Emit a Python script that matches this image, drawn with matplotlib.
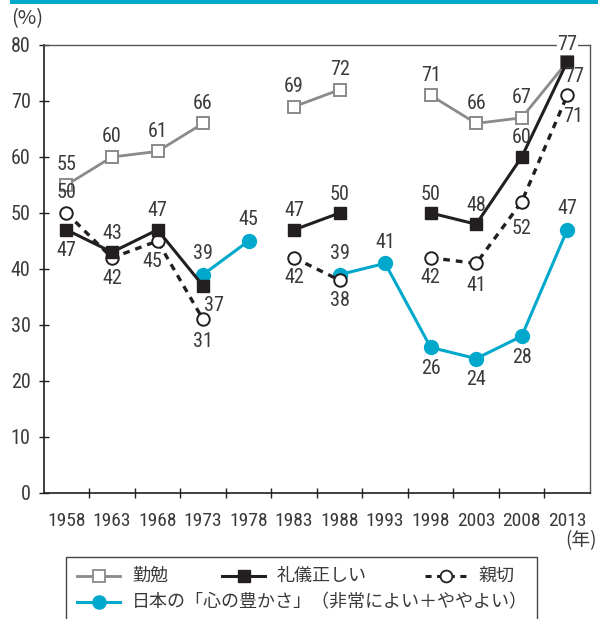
import numpy as np
import matplotlib
matplotlib.use("Agg")
import matplotlib.pyplot as plt
from matplotlib import font_manager
from matplotlib.lines import Line2D
from matplotlib.patches import Rectangle

# ---------------- data ----------------
years = ["1958", "1963", "1968", "1973", "1978", "1983", "1988", "1993", "1998", "2003", "2008", "2013"]
kinben = [55, 60, 61, 66, None, 69, 72, None, 71, 66, 67, 77]          # 勤勉
reigi = [47, 43, 47, 37, None, 47, 50, None, 50, 48, 60, 77]           # 礼儀正しい
shinsetsu = [50, 42, 45, 31, None, 42, 38, None, 42, 41, 52, 71]       # 親切
kokoro = [None, None, None, 39, 45, None, 39, 41, 26, 24, 28, 47]      # 日本の「心の豊かさ」
yticks = [0, 10, 20, 30, 40, 50, 60, 70, 80]
legend_labels = ["勤勉", "礼儀正しい", "親切", "日本の「心の豊かさ」（非常によい＋ややよい）"]

# ---------------- fonts ----------------
avail = {f.name for f in font_manager.fontManager.ttflist}
num_font = [f for f in ["Liberation Sans Narrow", "Roboto Condensed", "DejaVu Sans Condensed"] if f in avail]
num_font = (num_font + ["DejaVu Sans"])[:1] + ["Noto Sans CJK JP"]
cjk_font = ["Noto Sans CJK JP", "DejaVu Sans"]
plt.rcParams["font.family"] = num_font

GRAY = "#8a8a8a"
BLACK = "#231f20"
CYAN = "#00a9cc"
TXT = "#3a3a3a"

W, H = 599, 619
fig = plt.figure(figsize=(W / 100, H / 100), dpi=100)
L, R, T, B = 43.7, 590, 45, 493
ax = fig.add_axes([L / W, 1 - B / H, (R - L) / W, (B - T) / H])

x = np.arange(len(years))
def arr(v):
    return np.array([np.nan if a is None else a for a in v], dtype=float)

k, r, s, c = arr(kinben), arr(reigi), arr(shinsetsu), arr(kokoro)

ax.plot(x, k, color=GRAY, lw=2.0, marker="s", ms=8.5, mfc="white", mec=GRAY, mew=1.4, zorder=3)
ax.plot(x, s, color=BLACK, lw=2.4, ls=(0, (2.0, 1.8)), marker="o", ms=9, mfc="white", mec=BLACK, mew=1.4, zorder=4)
ax.plot(x, r, color=BLACK, lw=2.2, marker="s", ms=9, mfc=BLACK, mec=BLACK, zorder=5)
ax.plot(x, c, color=CYAN, lw=2.2, marker="o", ms=10, mfc=CYAN, mec=CYAN, zorder=2)

ax.set_xlim(-0.5, len(years) - 0.5)
ax.set_ylim(0, 80)
ax.set_yticks(yticks)
ax.set_yticklabels([str(v) for v in yticks], fontsize=14.5, color=TXT)
ax.set_xticks(x)
ax.set_xticklabels(years, fontsize=14, color=TXT)
ax.tick_params(axis="x", which="major", length=0, pad=14)
ax.set_xticks(np.arange(0.5, len(years) - 1, 1), minor=True)
ax.tick_params(axis="x", which="minor", direction="inout", length=7, width=1, color=BLACK)
ax.tick_params(axis="y", direction="inout", length=7, width=1, color=BLACK, pad=6)
for sp in ["left", "bottom"]:
    ax.spines[sp].set_color(BLACK)
    ax.spines[sp].set_linewidth(1.2)
for sp in ["top", "right"]:
    ax.spines[sp].set_color("#555555")
    ax.spines[sp].set_linewidth(1.0)

# ---------------- value labels ----------------
PT = 0.72  # px -> points
def lab(xi, yv, dx, dy, bg=False):
    kw = {}
    if bg:
        kw["bbox"] = dict(fc="white", ec="none", pad=0.5)
    ax.annotate(f"{int(yv)}", (xi, yv), xytext=(dx * PT, dy * PT), textcoords="offset points",
                ha="center", va="center", fontsize=14.5, color=TXT, zorder=10, annotation_clip=False, **kw)

# offsets in px (dx, dy up-positive)
k_off = {0: (0, 20), 1: (0, 20), 2: (0, 20), 3: (0, 20), 5: (0, 20), 6: (0, 20), 8: (0, 20), 9: (0, 20), 10: (0, 20), 11: (7, -15)}
r_off = {0: (0, -21), 1: (0, 19), 2: (0, 19), 3: (11, -20), 5: (0, 19), 6: (0, 19), 8: (0, 19), 9: (0, 19), 10: (0, 19), 11: (0, 17)}
s_off = {0: (0, 20), 1: (0, -21), 2: (-5, -21), 3: (0, -22), 5: (0, -20), 6: (0, -20), 8: (0, -20), 9: (0, -22), 10: (0, -27), 11: (6, -21)}
c_off = {3: (0, 21), 4: (0, 21), 6: (0, 21), 7: (0, 21), 8: (0, -21), 9: (0, -21), 10: (0, -21), 11: (0, 21)}
for vals, offs in [(k, k_off), (r, r_off), (s, s_off), (c, c_off)]:
    for i, (dx, dy) in offs.items():
        if not np.isnan(vals[i]):
            lab(x[i], vals[i], dx, dy, bg=(vals is r and i == 11))

# ---------------- extra texts ----------------
fig.text(11 / W, 1 - 19 / H, "(%)", fontsize=14.5, color=TXT, va="center", ha="left", family=cjk_font)
fig.text(597 / W, 1 - 541 / H, "(年)", fontsize=13.5, color=TXT, va="center", ha="right", family=cjk_font)

# top cyan band
fig.patches.append(Rectangle((10 / W, 1 - 4 / H), (598 - 10) / W, 4 / H, transform=fig.transFigure,
                             fc=CYAN, ec="none"))

# ---------------- legend (manual) ----------------
fig.patches.append(Rectangle((66 / W, -0.05), (537 - 66) / W, 0.05 + (1 - 557 / H), transform=fig.transFigure,
                             fc="none", ec="#444444", lw=1.0))
def leg(x0, x1, yy, text, tx, **style):
    xs = np.array([x0, (x0 + x1) / 2, x1]) / W
    ys = np.array([1 - yy / H] * 3)
    fig.add_artist(Line2D(xs, ys, transform=fig.transFigure, markevery=[1], **style))
    fig.text(tx / W, 1 - yy / H, text, fontsize=13, color=TXT, va="center", ha="left", family=cjk_font)

leg(77, 120, 576, legend_labels[0], 132, color=GRAY, lw=2.0, marker="s", ms=8, mfc="white", mec=GRAY, mew=1.3)
leg(222, 265, 576, legend_labels[1], 277, color=BLACK, lw=2.2, marker="s", ms=8.5, mfc=BLACK, mec=BLACK)
leg(425, 466, 576, legend_labels[2], 478, color=BLACK, lw=2.2, ls=(0, (2.0, 1.8)), marker="o", ms=8.5,
    mfc="white", mec=BLACK, mew=1.3)
leg(77, 120, 602, legend_labels[3], 132, color=CYAN, lw=2.2, marker="o", ms=9.5, mfc=CYAN, mec=CYAN)

fig.savefig("out.png", dpi=100)
